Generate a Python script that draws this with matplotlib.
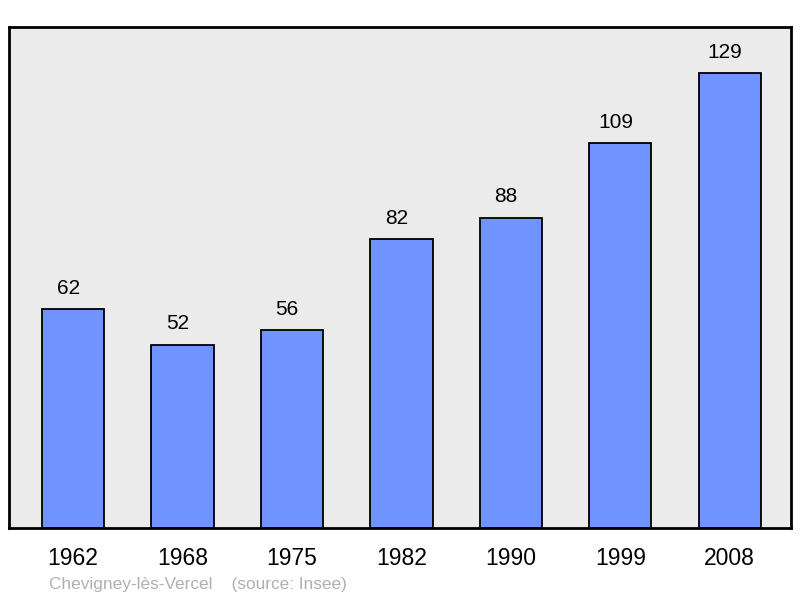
import matplotlib.pyplot as plt
import numpy as np

plt.rcParams['font.family'] = ['Liberation Sans', 'DejaVu Sans']

years = ['1962', '1968', '1975', '1982', '1990', '1999', '2008']
population = [62, 52, 56, 82, 88, 109, 129]
commune = 'Chevigney-lès-Vercel'
source = '(source: Insee)'

fig = plt.figure(figsize=(8, 5.98), dpi=100)
ax = fig.add_axes([9/800, 1 - 528/598, 782/800, 501/598])
ax.set_facecolor('#ebebeb')

x = np.arange(len(years))
bars = ax.bar(x, population, width=0.568, color='#7094ff', edgecolor='black', linewidth=1.3, zorder=2)
# value labels sit a little left of the bar centre in the original
for xi, v in zip(x, population):
    ax.annotate(str(v), (xi, v), xytext=(-3.5, 8), textcoords='offset points',
                ha='center', va='bottom', fontsize=15)

ax.set_xlim(-0.585, 6.559)
ax.set_ylim(0, 142)
ax.set_xticks(x)
ax.set_xticklabels(years, fontsize=16.5)
ax.tick_params(axis='x', length=0, pad=14)
ax.set_yticks([])
for s in ax.spines.values():
    s.set_linewidth(2)

fig.text(49/800, 1 - 585/598, commune + '    ' + source, fontsize=12.4, color='#b0b0b0', ha='left', va='center')

fig.savefig('out.png', dpi=100)
